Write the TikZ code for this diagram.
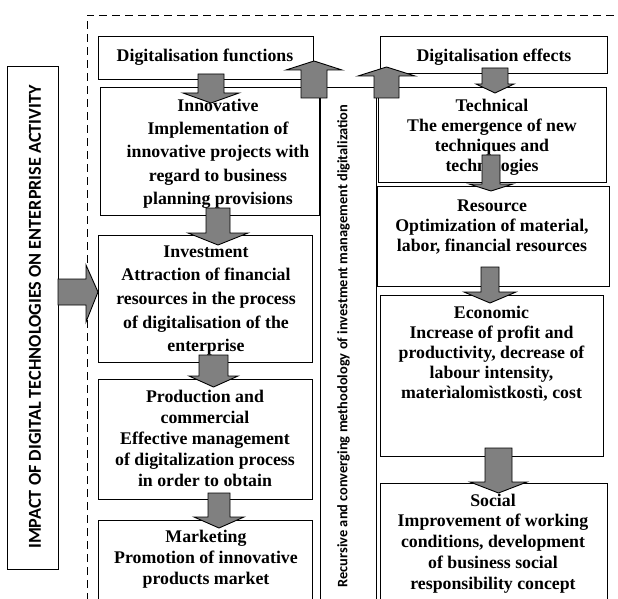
\documentclass[tikz,border=0pt]{standalone}
\usepackage{fontspec}
\setmainfont{Liberation Serif}[BoldFont={Liberation Serif Bold}]
\newfontfamily\calib{Carlito}
\definecolor{arrowgray}{RGB}{128,128,128}
% down and up block arrows: centre x, start y, head base y, tip y, half body, half head
\newcommand\blockdown[6]{%
  \draw[blockarrow] (#1-#5,#2) -- (#1+#5,#2) -- (#1+#5,#3) -- (#1+#6,#3) -- (#1,#4)
    -- (#1-#6,#3) -- (#1-#5,#3) -- cycle;}
\newcommand\blockup[6]{%
  \draw[blockarrow] (#1-#5,#2) -- (#1+#5,#2) -- (#1+#5,#3) -- (#1+#6,#3) -- (#1,#4)
    -- (#1-#6,#3) -- (#1-#5,#3) -- cycle;}
\begin{document}
\begin{tikzpicture}[x=1bp,y=-1bp,
  box/.style={draw, line width=1bp, inner sep=0, outer sep=0, fill=white},
  body/.style={font=\bfseries\fontsize{17.8bp}{#1}\selectfont, align=center, inner sep=0},
  side/.style={rotate=90, inner sep=0, font=\calib\bfseries\fontsize{#1}{#1}\selectfont},
  blockarrow/.style={draw, line width=0.9bp, fill=arrowgray, line join=miter},
  border/.style={dashed, dash pattern=on 8bp off 5bp, line width=0.8bp}
]
\useasboundingbox (0,0) rectangle (618,599);
\clip (0,0) rectangle (618,599);

% dashed frame of the digitalisation area
\draw[border] (87,640) -- (87,15) -- (640,15);

% outer impact box
\node[box, minimum width=50bp, minimum height=502bp] (impact) at (33,318) {};
\node[side=18.2bp] (impactT) at (35,317) {IMPACT OF DIGITAL TECHNOLOGIES ON ENTERPRISE ACTIVITY};

% headers
\node[box, minimum width=215bp, minimum height=43bp] (fun) at (205.5,58.5) {};
\node[box, minimum width=227bp, minimum height=37bp] (eff) at (493.5,55.5) {};

% functions column
\node[box, minimum width=219bp, minimum height=127bp] (inn) at (209.5,151.5) {};
\node[box, minimum width=214bp, minimum height=127bp] (inv) at (205,298.5) {};
\node[box, minimum width=214bp, minimum height=120bp] (prod) at (205,439) {};
\node[box, minimum width=214bp, minimum height=100bp] (mkt) at (205,570) {};

% methodology strip
\node[box, minimum width=56bp, minimum height=532bp] (rec) at (348,354) {};

% effects column
\node[box, minimum width=228bp, minimum height=94bp] (tech) at (492,135) {};
\node[box, minimum width=232bp, minimum height=99bp] (res) at (493,236.5) {};
\node[box, minimum width=223bp, minimum height=161bp] (eco) at (491.5,375.5) {};
\node[box, minimum width=227bp, minimum height=137bp] (soc) at (493.5,551.5) {};

% texts
\node[body=20bp] (funT) at (205,57) {Digitalisation functions};
\node[body=20bp] (effT) at (494,57) {Digitalisation effects};
\node[body=23.3bp] (innT) at (218,153.5) {Innovative\\Implementation of\\innovative projects with\\regard to business\\planning provisions};
\node[body=23.7bp] (invT) at (206,300.5) {Investment\\Attraction of financial\\resources in the process\\of digitalisation of the\\enterprise};
\node[body=20.8bp] (prodT) at (205,438.5) {Production and\\commercial\\Effective management\\of digitalization process\\in order to obtain};
\node[body=21bp] (mktT) at (206,559) {Marketing\\Promotion of innovative\\products market};
\node[body=20bp] (techT) at (492,137) {Technical\\The emergence of new\\techniques and\\technologies};
\node[body=20bp] (resT) at (492,227) {Resource\\Optimization of material,\\labor, financial resources};
\node[body=20bp] (ecoT) at (491.5,354) {Economic\\Increase of profit and\\productivity, decrease of\\labour intensity,\\materìalomìstkostì, cost};
\node[body=20.8bp] (socT) at (493,543.5) {Social\\Improvement of working\\conditions, development\\of business social\\responsibility concept};
\node[side=14.4bp] (recT) at (343.5,346) {Recursive and converging methodology of investment management digitalization};

% impact arrow into the frame
\draw[blockarrow] (impact.east |- 0,279) -- (86,279) -- (86,265) -- (98,292) -- (86,322)
  -- (86,305) -- (impact.east |- 0,305) -- cycle;

% arrows between the boxes
\blockdown{211}{74}{93}{103}{13}{28}
\blockdown{218}{208}{233}{245}{12}{30}
\blockdown{213.5}{355}{376}{387}{14.5}{24.5}
\blockdown{219}{493}{517}{528}{11}{25}
\blockdown{495}{68}{84}{93}{13}{19}
\blockdown{491}{155}{184}{191}{9}{22}
\blockdown{490}{267}{292}{303}{9}{26}
\blockdown{498.5}{448}{482}{493}{13.5}{28.5}
\blockup{314}{98}{70}{61}{13}{28}
\blockup{386.5}{98}{76}{67}{12.5}{28.5}
\end{tikzpicture}
\end{document}
